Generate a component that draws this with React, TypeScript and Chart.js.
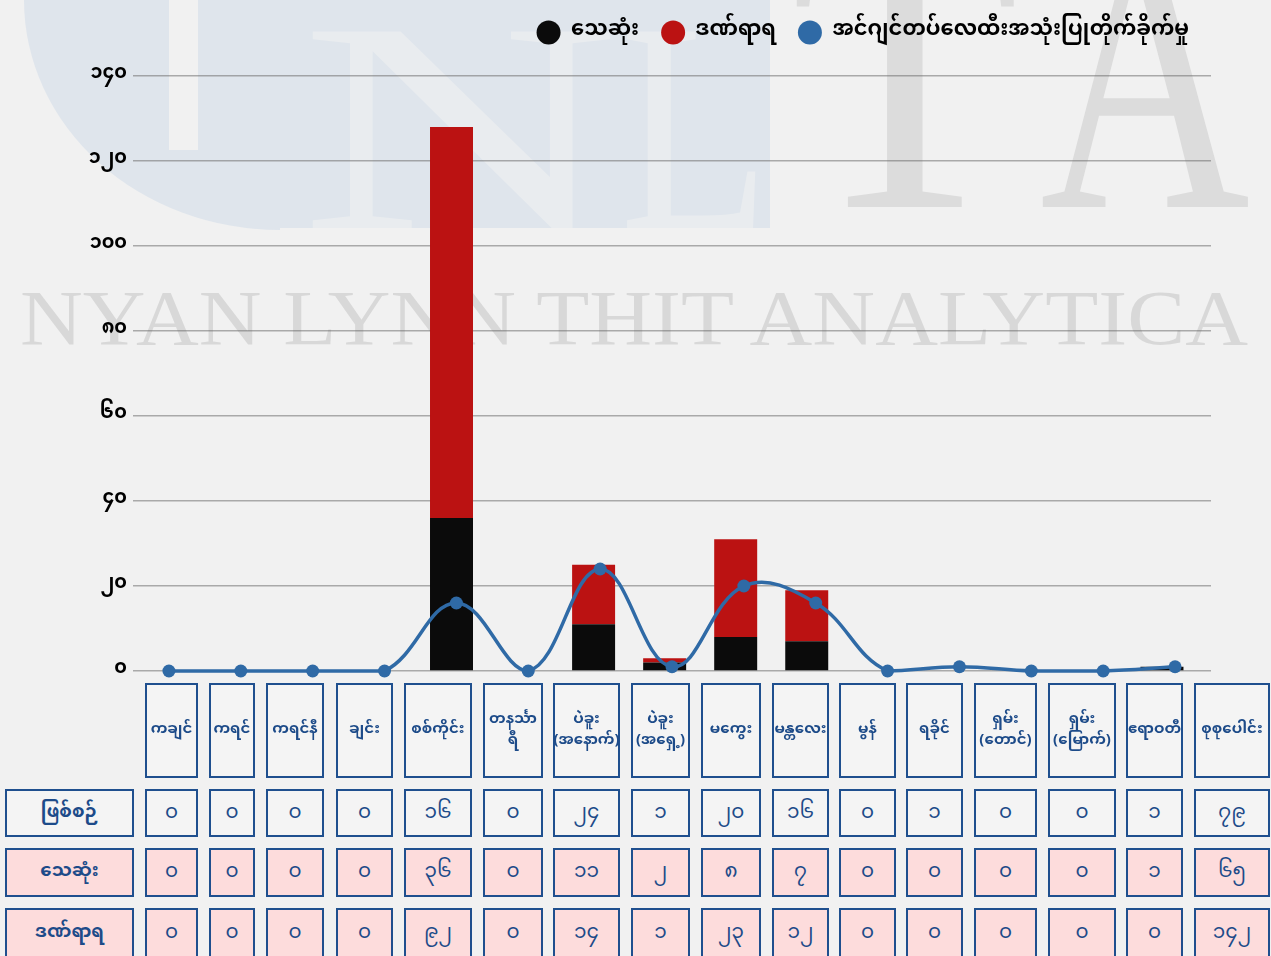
import React, { useEffect, useRef } from 'react';
import { Chart, registerables } from 'chart.js';

Chart.register(...registerables);

// ---------------- data ----------------
const categories = [
  'ကချင်', 'ကရင်', 'ကရင်နီ', 'ချင်း', 'စစ်ကိုင်း', 'တနင်္သာရီ',
  'ပဲခူး (အနောက်)', 'ပဲခူး (အရှေ့)', 'မကွေး', 'မန္တလေး', 'မွန်', 'ရခိုင်',
  'ရှမ်း (တောင်)', 'ရှမ်း (မြောက်)', 'ဧရာဝတီ',
];
const headerLabels = [
  'ကချင်', 'ကရင်', 'ကရင်နီ', 'ချင်း', 'စစ်ကိုင်း', 'တနင်္သာ\nရီ',
  'ပဲခူး\n(အနောက်)', 'ပဲခူး\n(အရှေ့)', 'မကွေး', 'မန္တလေး', 'မွန်', 'ရခိုင်',
  'ရှမ်း\n(တောင်)', 'ရှမ်း\n(မြောက်)', 'ဧရာဝတီ',
];
const totalLabel = 'စုစုပေါင်း';
const incidents = [0, 0, 0, 0, 16, 0, 24, 1, 20, 16, 0, 1, 0, 0, 1];
const deaths = [0, 0, 0, 0, 36, 0, 11, 2, 8, 7, 0, 0, 0, 0, 1];
const injured = [0, 0, 0, 0, 92, 0, 14, 1, 23, 12, 0, 0, 0, 0, 0];
const seriesNames = ['သေဆုံး', 'ဒဏ်ရာရ', 'အင်ဂျင်တပ်လေထီးအသုံးပြုတိုက်ခိုက်မှု'];
const rowLabels = ['ဖြစ်စဉ်', 'သေဆုံး', 'ဒဏ်ရာရ'];
const yMax = 140;
const yStep = 20;

// ---------------- layout / style ----------------
const FONT = "'Noto Sans Myanmar', 'Noto Sans Myanmar UI', 'Padauk', 'Myanmar Text', 'Noto Sans', sans-serif";
const BLUE_TXT = '#1d4b89';
const colLeft = [145, 209, 266, 336, 404, 483, 553, 631, 701, 772, 839, 906, 974, 1048, 1126, 1194];
const colRight = [198, 255, 324, 393, 472, 543, 620, 690, 761, 829, 896, 963, 1037, 1116, 1183, 1270];
const rowTop = [789, 848, 908];
const rowBottom = [837, 897, 958];

const myDigits = '၀၁၂၃၄၅၆၇၈၉';
const toMy = (n: number | string) => String(n).replace(/\d/g, (d) => myDigits[+d]);
const sum = (a: number[]) => a.reduce((s, v) => s + v, 0);

const legendHeightPlugin = {
  id: 'legendHeight',
  beforeUpdate(chart: any) {
    const lg = chart.legend;
    if (lg && !lg.__patched) {
      const orig = lg.fit;
      lg.fit = function () {
        orig.call(this);
        this.height = 76;
      };
      lg.__patched = true;
    }
  },
};

const barCommon = {
  type: 'bar',
  xAxisID: 'xb',
  borderWidth: 0,
  inflateAmount: 0,
  grouped: false,
  barPercentage: 0.605,
  categoryPercentage: 1,
  maxBarThickness: 43,
  stack: 'a',
};

function ChartCanvas() {
  const ref = useRef<HTMLCanvasElement | null>(null);
  useEffect(() => {
    if (!ref.current) return;
    Chart.defaults.font.family = FONT;
    const chart = new Chart(ref.current, {
      type: 'bar',
      data: {
        labels: categories,
        datasets: [
          {
            ...barCommon,
            label: seriesNames[0],
            data: deaths.map((v, i) => ({ x: i, y: v })),
            backgroundColor: '#0b0b0b',
          } as any,
          {
            ...barCommon,
            label: seriesNames[1],
            data: injured.map((v, i) => ({ x: i, y: v })),
            backgroundColor: '#bb1212',
          } as any,
          {
            type: 'line',
            label: seriesNames[2],
            data: incidents,
            xAxisID: 'x',
            borderColor: '#2f6aa6',
            backgroundColor: '#2f6aa6',
            borderWidth: 3.5,
            pointRadius: 6.5,
            pointBorderWidth: 0,
            pointHoverRadius: 6.5,
            tension: 0.4,
            clip: false,
            order: -1,
          } as any,
        ],
      },
      options: {
        animation: false,
        responsive: false,
        layout: { padding: { left: 0, right: 60, top: 0, bottom: 19 } },
        scales: {
          x: { type: 'category', display: false, offset: true },
          xb: {
            type: 'linear',
            display: false,
            offset: false,
            stacked: true,
            bounds: 'data',
            min: -0.483,
            max: 14.69,
            grid: { offset: false },
            afterBuildTicks: (s: any) => {
              s.ticks = [];
            },
          },
          y: {
            stacked: true,
            min: 0,
            max: yMax,
            border: { display: false },
            grid: { color: 'rgba(110,110,110,0.55)', lineWidth: 1.5, drawTicks: false },
            ticks: {
              stepSize: yStep,
              padding: 6,
              color: '#000',
              font: { size: 19, weight: 'bold', family: FONT },
              callback: (v: any) => toMy(v),
            },
            afterFit: (s: any) => {
              s.width = 133;
            },
          },
        },
        plugins: {
          tooltip: { enabled: false },
          legend: {
            position: 'top',
            align: 'end',
            labels: {
              usePointStyle: true,
              pointStyle: 'circle',
              pointStyleWidth: 24,
              boxWidth: 24,
              boxHeight: 17,
              padding: 22,
              color: '#000',
              font: { size: 21, weight: 'bold', family: FONT },
              sort: (a: any, b: any) => a.datasetIndex - b.datasetIndex,
            },
          },
        },
      } as any,
      plugins: [legendHeightPlugin],
    });
    return () => chart.destroy();
  }, []);
  return (
    <canvas
      ref={ref}
      width={1271}
      height={690}
      style={{ position: 'absolute', left: 0, top: 0, width: 1271, height: 690 }}
    />
  );
}

function Cell(props: { l: number; r: number; t: number; b: number; bg: string; children: any; bold?: boolean; size: number }) {
  const { l, r, t, b, bg, children, bold, size } = props;
  return (
    <div
      style={{
        position: 'absolute',
        left: l,
        top: t,
        width: r - l,
        height: b - t,
        boxSizing: 'border-box',
        border: '2px solid #1f4f8e',
        background: bg,
        display: 'flex',
        alignItems: 'center',
        justifyContent: 'center',
        textAlign: 'center',
        whiteSpace: 'pre-line',
        color: BLUE_TXT,
        fontFamily: FONT,
        fontWeight: bold ? 700 : 400,
        fontSize: size,
        lineHeight: 1.35,
      }}
    >
      {children}
    </div>
  );
}

function Watermark() {
  return (
    <svg width={1271} height={956} style={{ position: 'absolute', left: 0, top: 0 }}>
      <rect x={0} y={0} width={1271} height={956} fill="#f1f1f1" />
      <path d="M 24 0 A 256 230 0 0 0 280 230 L 280 0 Z" fill="#dfe5ec" />
      <rect x={169} y={0} width={29} height={150} fill="#f1f1f1" />
      <rect x={280} y={0} width={490} height={228} fill="#dfe5ec" />
      <text x={300} y={228} fontFamily="Liberation Serif, serif" fontSize={300} fill="#e9ecef"
        textLength={320} lengthAdjust="spacingAndGlyphs">N</text>
      <text x={620} y={228} fontFamily="Liberation Serif, serif" fontSize={300} fill="#e9ecef"
        textLength={150} lengthAdjust="spacingAndGlyphs">L</text>
      <text x={790} y={207} fontFamily="Liberation Serif, serif" fontSize={400} fill="#dcdcdc"
        textLength={230} lengthAdjust="spacingAndGlyphs">T</text>
      <text x={1040} y={207} fontFamily="Liberation Serif, serif" fontSize={400} fill="#dcdcdc"
        textLength={210} lengthAdjust="spacingAndGlyphs">A</text>
      <text x={20} y={344} fontFamily="Liberation Serif, serif" fontSize={78} fill="rgba(90,90,90,0.16)"
        textLength={1228} lengthAdjust="spacingAndGlyphs">NYAN LYNN THIT ANALYTICA</text>
    </svg>
  );
}

export default function App() {
  const rows = [
    { label: rowLabels[0], values: incidents, bg: 'rgba(255,255,255,0.25)' },
    { label: rowLabels[1], values: deaths, bg: '#fddcdc' },
    { label: rowLabels[2], values: injured, bg: '#fddcdc' },
  ];
  return (
    <div style={{ position: 'absolute', left: 0, top: 0, width: 1271, height: 956, overflow: 'hidden', fontFamily: FONT }}>
      <Watermark />
      <ChartCanvas />
      {headerLabels.map((h, i) => (
        <Cell key={'h' + i} l={colLeft[i]} r={colRight[i]} t={683} b={778} bg="rgba(255,255,255,0.25)" bold size={15}>
          {h}
        </Cell>
      ))}
      <Cell l={colLeft[15]} r={colRight[15]} t={683} b={778} bg="rgba(255,255,255,0.25)" bold size={15}>
        {totalLabel}
      </Cell>
      {rows.map((row, ri) => (
        <React.Fragment key={'r' + ri}>
          <Cell l={5} r={134} t={rowTop[ri]} b={rowBottom[ri]} bg={row.bg} bold size={18}>
            {row.label}
          </Cell>
          {row.values.map((v, ci) => (
            <Cell key={ci} l={colLeft[ci]} r={colRight[ci]} t={rowTop[ri]} b={rowBottom[ri]} bg={row.bg} size={20}>
              {toMy(v)}
            </Cell>
          ))}
          <Cell l={colLeft[15]} r={colRight[15]} t={rowTop[ri]} b={rowBottom[ri]} bg={row.bg} size={20}>
            {toMy(sum(row.values))}
          </Cell>
        </React.Fragment>
      ))}
    </div>
  );
}
